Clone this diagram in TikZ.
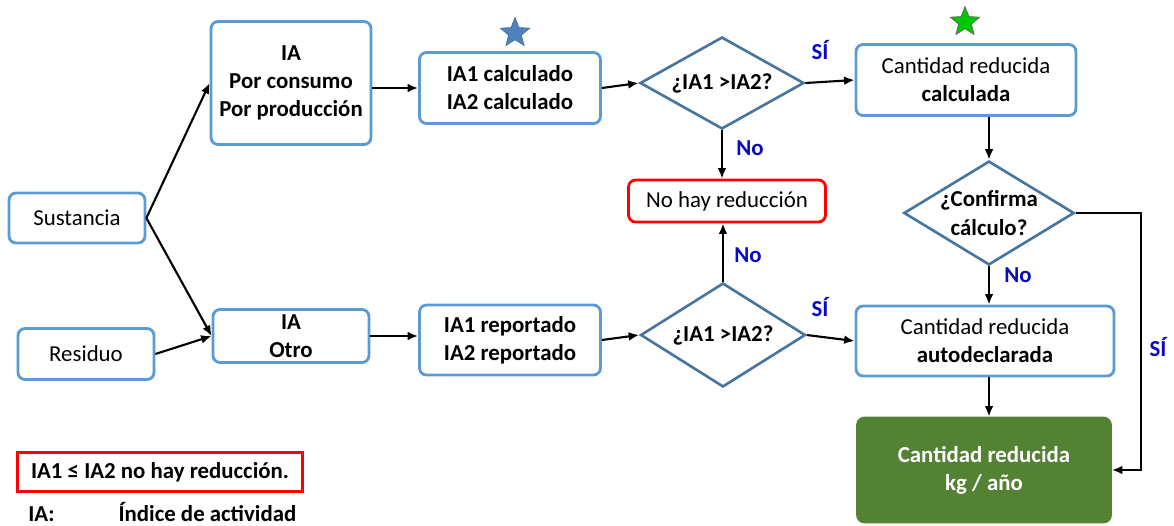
\documentclass[tikz,border=0pt]{standalone}
\usepackage{fontspec}
\setmainfont{Carlito}
\usetikzlibrary{shapes.geometric,arrows.meta}
\definecolor{boxblue}{RGB}{91,155,213}
\definecolor{askblue}{RGB}{72,117,160}
\definecolor{lblblue}{RGB}{10,10,190}
\definecolor{okgreen}{RGB}{84,130,53}
\definecolor{starblue}{RGB}{79,129,189}
\definecolor{stargreen}{RGB}{0,200,0}

\begin{document}
\begin{tikzpicture}[x=0.02cm,y=-0.02cm,
    font=\fontsize{13}{16}\selectfont,
    box/.style={draw=boxblue, line width=1.6pt, rounded corners=4pt, fill=white, align=center, inner sep=1pt},
    bold/.style={font=\fontsize{13}{16}\selectfont\bfseries},
    ask/.style={diamond, draw=askblue, line width=1.5pt, align=center, inner sep=0pt, bold},
    arr/.style={line width=1.2pt, -{Latex[length=6pt,width=5pt]}},
    lbl/.style={text=lblblue, bold}]
    \useasboundingbox (0,0) rectangle (1174,525);

    % left column
    \node[box, minimum width=2.72cm, minimum height=1cm] (sus) at (77,218) {Sustancia};
    \node[box, minimum width=2.72cm, minimum height=1.02cm] (res) at (86,354) {Residuo};
    \node[box, bold, minimum width=3.2cm, minimum height=2.46cm] (iacp) at (291,83) {IA\\Por consumo\\Por producción};
    \node[box, bold, minimum width=3.12cm, minimum height=1.06cm, inner sep=0pt] (iaot) at (291,336) {IA\\Otro};

    % index boxes
    \node[box, bold, minimum width=3.62cm, minimum height=1.42cm] (calc) at (510,88) {IA1 calculado\\IA2 calculado};
    \node[box, bold, minimum width=3.62cm, minimum height=1.4cm] (rep) at (510,340) {IA1 reportado\\IA2 reportado};
    \node[star, star points=5, star point ratio=2.3, fill=starblue, draw=askblue, minimum size=0.62cm, inner sep=0pt] (star1) at (515,33) {};

    % decisions
    \node[ask, shape aspect=1.8, minimum width=3.28cm, minimum height=1.84cm] (q1) at (722,83) {¿IA1 >IA2?};
    \node[ask, shape aspect=1.6, minimum width=3.3cm, minimum height=2.08cm] (q2) at (723,335) {¿IA1 >IA2?};
    \node[box, draw=red, minimum width=3.94cm, minimum height=0.84cm] (nohay) at (727,201) {No hay reducción};

    % right column
    \node[box, minimum width=4.4cm, minimum height=1.42cm] (crc) at (966,80) {Cantidad reducida\\\textbf{calculada}};
    \node[star, star points=5, star point ratio=2.3, fill=stargreen, draw=black!60, minimum size=0.62cm, inner sep=0pt] (star2) at (965,22) {};
    \node[ask, shape aspect=1.64, minimum width=3.28cm, minimum height=2cm] (conf) at (989,213) {¿Confirma\\cálculo?};
    \node[box, minimum width=5.16cm, minimum height=1.4cm] (cra) at (985,341) {Cantidad reducida\\\textbf{autodeclarada}};
    \node[box, bold, draw=okgreen, fill=okgreen, text=white, minimum width=5.06cm, minimum height=2.08cm] (kg) at (984,470) {Cantidad reducida\\kg / año};
    \coordinate (turn) at (1141,213);

    % legend
    \node[draw=red, line width=1.5pt, bold, minimum width=5.7cm, minimum height=0.78cm] (leg) at (160,472) {IA1 ≤ IA2 no hay reducción.};
    \node[bold, anchor=base west, inner sep=0pt] (legia) at (28,521) {IA:\hspace{2.8em}Índice de actividad};

    % connectors
    \draw[arr] (sus.east) -- (iacp.west);
    \draw[arr] (sus.east) -- (iaot.west);
    \draw[arr] (res.east) -- (iaot.west);
    \draw[arr] (calc.west -| iacp.east) -- (calc.west);
    \draw[arr] (iaot.east) -- (iaot.east -| rep.west);
    \draw[arr] (calc.east) -- (q1.west);
    \draw[arr] (rep.east) -- (q2.west);
    \draw[arr] (q1.east) -- (crc.west);
    \draw[arr] (q2.east) -- (cra.west);
    \draw[arr] (q1.south) -- (q1.south |- nohay.north);
    \draw[arr] (q2.north) -- (q2.north |- nohay.south);
    \draw[arr] (conf.north |- crc.south) -- (conf.north);
    \draw[arr] (conf.south) -- (conf.south |- cra.north);
    \draw[arr] (cra.south -| conf.south) -- (kg.north -| conf.south);
    \draw[arr] (conf.east) -- (turn) |- (kg.east);

    % branch labels
    \node[lbl] (si1) at (820,50) {SÍ};
    \node[lbl] (no1) at (750,148) {No};
    \node[lbl] (no2) at (748,255) {No};
    \node[lbl] (si2) at (820,307) {SÍ};
    \node[lbl] (no3) at (1018,275) {No};
    \node[lbl] (si3) at (1158,347) {SÍ};
\end{tikzpicture}
\end{document}
